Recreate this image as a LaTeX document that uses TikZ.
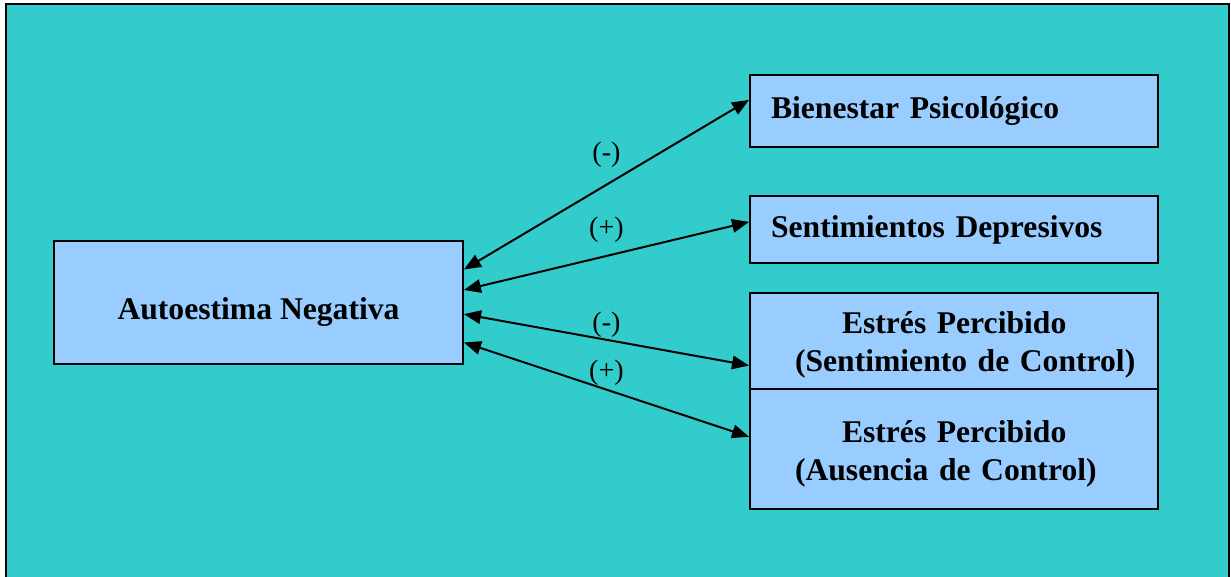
\documentclass[tikz,border=0pt]{standalone}
\usepackage{fontspec}
\setmainfont{Liberation Serif}
\usepackage{xcolor}
\usetikzlibrary{arrows.meta, calc}

\definecolor{bgteal}{HTML}{33CCCC}
\definecolor{boxblue}{HTML}{99CCFF}

\tikzset{
    var/.style={draw, line width=0.04cm, fill=boxblue, font=\fontsize{18}{20}\selectfont\bfseries, inner sep=0pt},
    link/.style={arrows={Triangle[length=0.34cm, width=0.27cm]-Triangle[length=0.34cm, width=0.27cm]}, line width=0.04cm},
    sign/.style={font=\fontsize{16}{18}\selectfont}
}

\begin{document}
\begin{tikzpicture}[x=0.02cm, y=-0.02cm]
    \useasboundingbox (0,0) rectangle (1231,577);
    \draw[fill=bgteal, line width=0.04cm] (6,4) rectangle (1229,600);

    \node[var, minimum width=8.18cm, minimum height=2.46cm, text height=0.68cm, text depth=0pt] (auto) at (258.5,302.5) {Autoestima Negativa};
    \node[var, minimum width=8.16cm, minimum height=1.44cm, text width=7.32cm, align=left] (bien) at (954,111) {Bienestar Psicológico};
    \node[var, minimum width=8.16cm, minimum height=1.34cm, text width=7.32cm, align=left] (sent) at (954,229.5) {Sentimientos Depresivos};
    \node[var, minimum width=8.16cm, minimum height=1.92cm, text width=7.32cm, align=left] (estA) at (954,341) {\rule{0pt}{17pt}\hspace*{1.42cm}Estrés Percibido\\[1.5pt]\hspace*{0.48cm}(Sentimiento de Control)};
    \node[var, minimum width=8.16cm, minimum height=2.40cm, text width=7.32cm, align=left] (estB) at (954,449) {\rule{0pt}{18pt}\hspace*{1.42cm}Estrés Percibido\\[1.5pt]\hspace*{0.48cm}(Ausencia de Control)};

    \draw[link] ($(auto.north east)!0.236!(auto.south east)$) -- node[sign, midway, yshift=0.60cm] {(-)} ($(bien.north west)!0.35!(bien.south west)$);
    \draw[link] ($(auto.north east)!0.40!(auto.south east)$) -- node[sign, midway, yshift=0.52cm] {(+)} ($(sent.north west)!0.39!(sent.south west)$);
    \draw[link] ($(auto.north east)!0.593!(auto.south east)$) -- node[sign, midway, yshift=0.30cm] {(-)} ($(estA.north west)!0.75!(estA.south west)$);
    \draw[link] ($(auto.north east)!0.82!(auto.south east)$) -- node[sign, midway, yshift=0.34cm] {(+)} ($(estB.north west)!0.40!(estB.south west)$);
\end{tikzpicture}
\end{document}
